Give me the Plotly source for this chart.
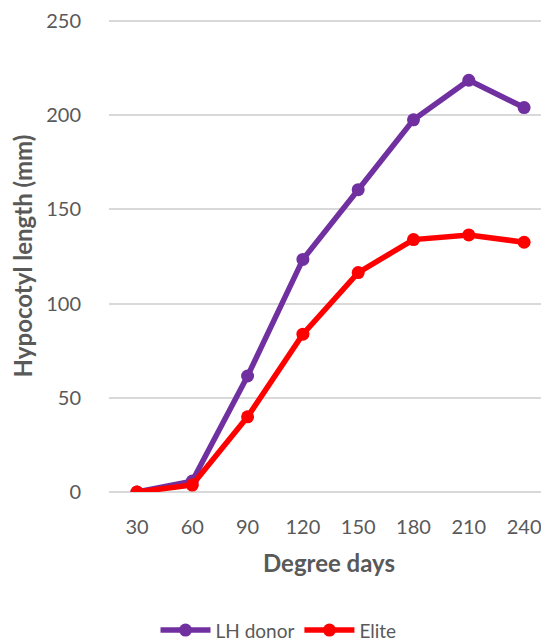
import plotly.graph_objects as go

degree_days = ["30", "60", "90", "120", "150", "180", "210", "240"]
lh_donor = [0, 5.8, 61.6, 123.5, 160.5, 197.6, 218.6, 204.1]
elite = [0, 3.7, 39.9, 83.8, 116.5, 134.0, 136.5, 132.6]
y_ticks = [0, 50, 100, 150, 200, 250]

FONT = "Lato"
GRAY = "#595959"

fig = go.Figure()
fig.add_trace(go.Scatter(
    x=degree_days, y=lh_donor, name="LH donor", mode="lines+markers",
    line=dict(color="#7030A0", width=5.5), marker=dict(size=13, color="#7030A0")))
fig.add_trace(go.Scatter(
    x=degree_days, y=elite, name="Elite", mode="lines+markers",
    line=dict(color="#FF0000", width=5.5), marker=dict(size=13, color="#FF0000")))

fig.update_layout(
    width=541, height=633,
    margin=dict(l=101, r=0, t=12, b=149),
    plot_bgcolor="white", paper_bgcolor="white",
    font=dict(family=FONT, color=GRAY, size=20),
    showlegend=True,
    legend=dict(orientation="h", xref="container", yref="container",
                x=0.5, xanchor="center", y=0.017, yanchor="middle",
                font=dict(size=19, color=GRAY), itemwidth=50),
    xaxis=dict(type="category", range=[-0.506, 7.45], showgrid=False,
               zeroline=False, showline=False,
               ticks="", ticklabelstandoff=21, automargin="bottom",
               title=dict(text="<b>Degree days</b>", standoff=18,
                          font=dict(size=24, color=GRAY))),
    yaxis=dict(range=[0, 250.6], tickvals=y_ticks, showgrid=True,
               gridcolor="#D9D9D9", gridwidth=1.5, zeroline=True,
               zerolinecolor="#D9D9D9", zerolinewidth=1.5, showline=False,
               ticks="", ticklabelstandoff=27, automargin="left",
               title=dict(text="<b>Hypocotyl length (mm)</b>", standoff=10,
                          font=dict(size=24, color=GRAY))),
)

fig.write_html("out.html")
